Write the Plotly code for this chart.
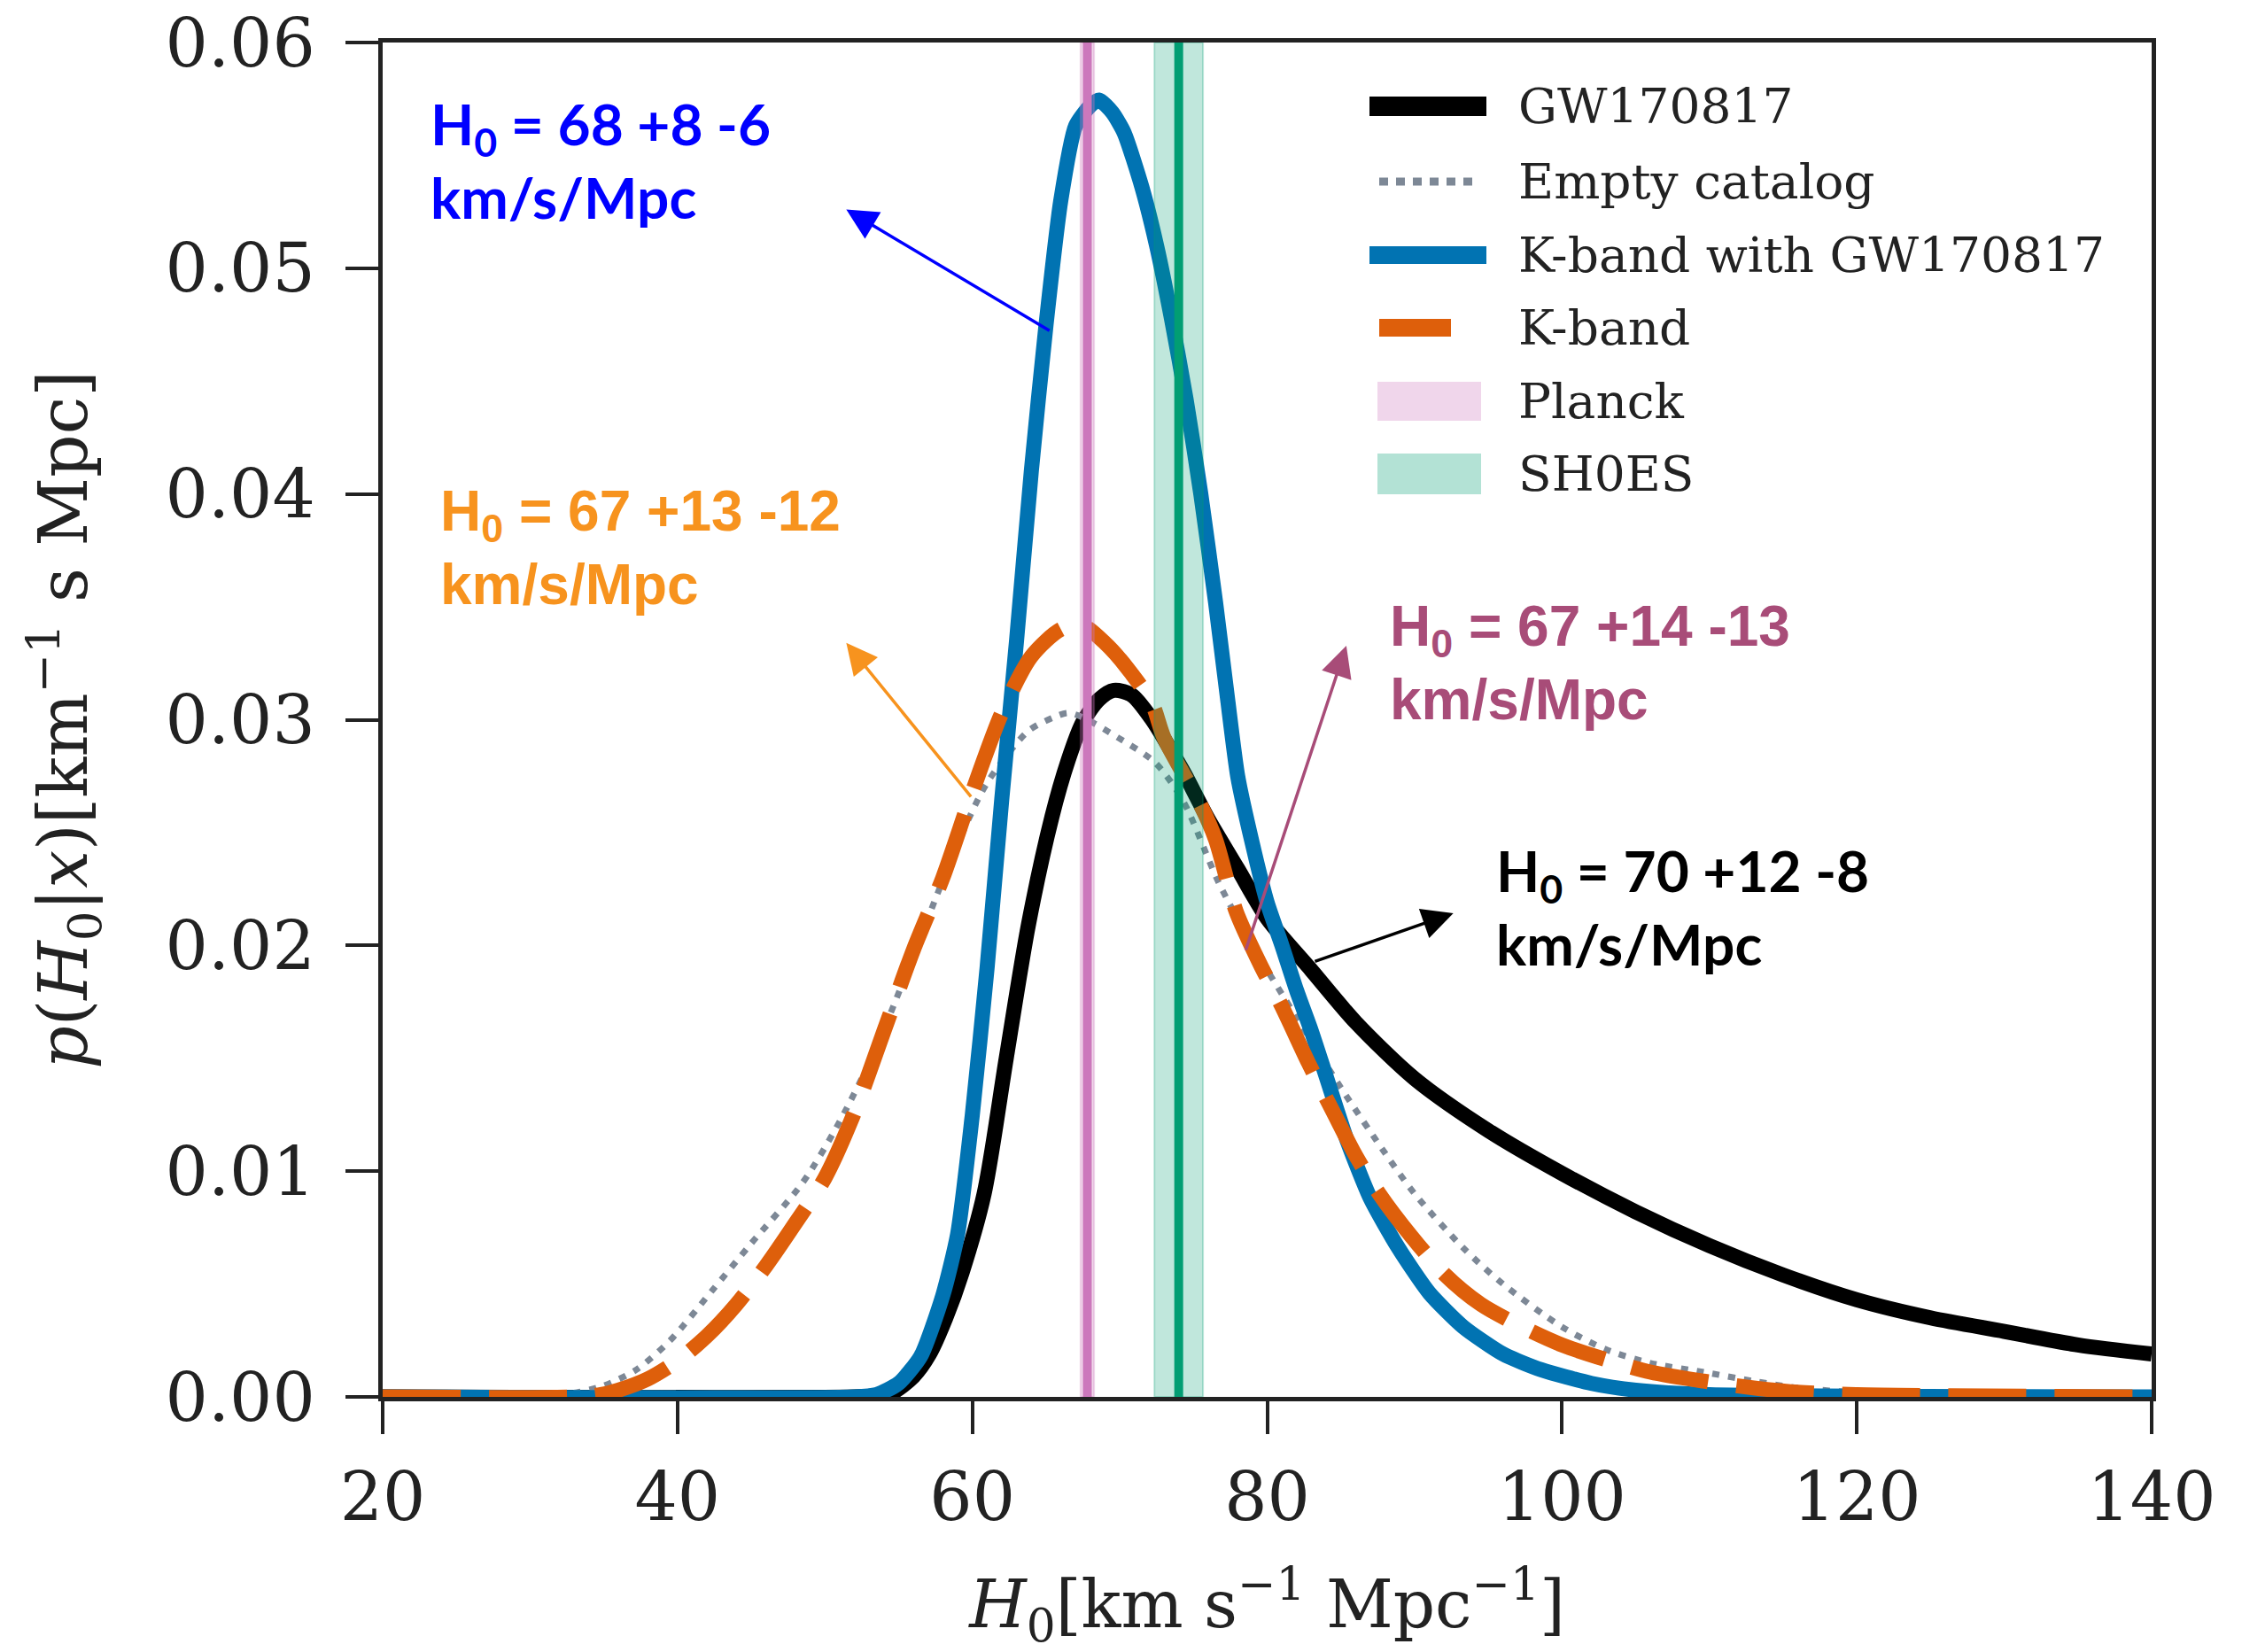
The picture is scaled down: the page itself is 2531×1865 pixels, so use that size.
import plotly.graph_objects as go

# ---------------- data ----------------
h_gw = [20, 52, 53.5, 54.6, 56, 57.1, 58.2, 59.3, 60.8, 62.3, 63.8, 65.4, 66.5, 67.5, 68.6,
        69.6, 70.8, 72.2, 73.6, 74.4, 76, 78, 80, 83, 86, 90, 95, 100, 105, 110, 115, 120,
        125, 130, 135, 140]
p_gw = [0, 0, 0.00005, 0.0002, 0.0009, 0.0019, 0.0035, 0.0055, 0.009, 0.015, 0.0209, 0.0257,
        0.0282, 0.0299, 0.0309, 0.0313, 0.0311, 0.0300, 0.0285, 0.0276, 0.0256, 0.0234,
        0.0212, 0.0189, 0.0166, 0.0141, 0.0118, 0.0099, 0.0082, 0.0067, 0.0054, 0.0043,
        0.0035, 0.0029, 0.0023, 0.0019]

h_empty = [20, 30, 33.2, 35, 37.2, 39.5, 42.4, 45, 48.5, 51, 53.5, 56.8, 59, 61, 63.8, 65.5,
           66.5, 67.5, 69.9, 72.4, 74.3, 76.7, 79, 82, 85, 88, 90, 93.3, 96, 100, 103, 106,
           109.6, 113, 116, 120, 125, 140]
p_empty = [0, 0, 0.0002, 0.0005, 0.0012, 0.0025, 0.00475, 0.0068, 0.0095, 0.0122, 0.0155,
           0.0209, 0.0245, 0.0272, 0.0295, 0.0301, 0.0303, 0.0301, 0.0292, 0.0281, 0.0264,
           0.0228, 0.0200, 0.0168, 0.0137, 0.0108, 0.0090, 0.0066, 0.0050, 0.0031, 0.0021,
           0.0015, 0.0011, 0.0007, 0.0004, 0.0002, 0.0001, 0]

h_kgw = [20, 52, 53.5, 55, 56.5, 58, 59, 60, 61, 62, 63, 64, 65, 66, 67, 68, 68.6, 69.5, 70.3,
         71.5, 72.5, 73.5, 74.5, 75.5, 76.5, 77.3, 78, 79, 80, 81, 82, 83, 84, 85.4, 87, 88.9,
         91, 93.3, 96, 98.6, 102, 105, 110, 140]
p_kgw = [0, 0, 0.0001, 0.0006, 0.0018, 0.0045, 0.0072, 0.0125, 0.019, 0.0265, 0.0335, 0.041,
         0.0475, 0.053, 0.0563, 0.0572, 0.05745, 0.0569, 0.0560, 0.0536, 0.0510, 0.0478,
         0.0442, 0.0400, 0.0352, 0.0310, 0.0275, 0.0245, 0.0219, 0.0200, 0.0180, 0.0162,
         0.0142, 0.0114, 0.0088, 0.0066, 0.0046, 0.0031, 0.0019, 0.0012, 0.0006, 0.0003,
         0.0001, 0]

h_k = [20, 33, 34.8, 36, 38, 40, 42, 44, 46, 48, 50, 52, 54, 56, 58, 60, 62, 64, 66, 67.4,
       69, 70.5, 72.2, 73.0, 75.5, 76.5, 77.9, 79.5, 81.0, 82.8, 84.5, 86, 87.6, 89.8, 92.0,
       94.5, 97.3, 100, 103, 106, 109.6, 113, 116.2, 120, 140]
p_k = [0, 0, 0.0001, 0.0003, 0.0008, 0.0016, 0.0027, 0.0041, 0.0058, 0.0077, 0.0097, 0.0126,
       0.0162, 0.0198, 0.0230, 0.0268, 0.0303, 0.0328, 0.0340, 0.0342, 0.0334, 0.0323,
       0.0307, 0.0292, 0.0262, 0.0247, 0.0215, 0.0192, 0.0173, 0.0148, 0.0126, 0.0107,
       0.0090, 0.0071, 0.00545, 0.0041, 0.0031, 0.0023, 0.00165, 0.0011, 0.0007, 0.0004,
       0.0002, 0.0001, 0]

planck_h0, planck_err = 67.8, 0.46
shoes_h0, shoes_err = 74.0, 1.65

x_ticks = [20, 40, 60, 80, 100, 120, 140]
y_ticks = [0.00, 0.01, 0.02, 0.03, 0.04, 0.05, 0.06]
x_range = [20, 140]
y_range = [0, 0.06]

legend_labels = ["GW170817", "Empty catalog", "K-band with GW170817", "K-band", "Planck", "SH0ES"]

# annotations: (text, colour, font, text x, text y, arrow tail x, y, arrow head x, y)
notes = [
    ("H<sub>0</sub> = 68 +8 -6<br>km/s/Mpc", "#0000ff", "Lato", 23.1, 0.0548, 65.32, 0.0472, 51.45, 0.0526),
    ("H<sub>0</sub> = 67 +13 -12<br>km/s/Mpc", "#f7931e", "Liberation Sans", 23.8, 0.0376, 59.98, 0.02653, 51.45, 0.0334),
    ("H<sub>0</sub> = 67 +14 -13<br>km/s/Mpc", "#a84c78", "Liberation Sans", 88.2, 0.0325, 78.52, 0.01974, 85.37, 0.03328),
    ("H<sub>0</sub> = 70 +12 -8<br>km/s/Mpc", "#000000", "Lato", 95.4, 0.0217, 83.15, 0.01927, 92.63, 0.02143),
]

SERIF = "DejaVu Serif"
INK = "#222222"
C_GW, C_EMPTY, C_KGW, C_K = "#000000", "#7d8896", "#0173b2", "#de5f0b"
C_PL, C_PL_FILL = "#cc78bc", "rgba(204,120,188,0.28)"
C_SH, C_SH_FILL = "#029e73", "rgba(2,158,115,0.25)"

# figure geometry (pixels)
W, H = 2531, 1865
ML, MR, MT, MB = 432, 102, 48, 288
PW, PH = W - ML - MR, H - MT - MB


def px(xp):
    return (xp - ML) / PW


def py(yp):
    return (H - MB - yp) / PH


fig = go.Figure()
fig.add_trace(go.Scatter(x=h_gw, y=p_gw, mode="lines", name=legend_labels[0],
                         line=dict(color=C_GW, width=17, shape="spline", smoothing=0.8)))
fig.add_trace(go.Scatter(x=h_empty, y=p_empty, mode="lines", name=legend_labels[1],
                         line=dict(color=C_EMPTY, width=7, dash="8px,10px", shape="spline", smoothing=0.8)))
fig.add_trace(go.Scatter(x=h_kgw, y=p_kgw, mode="lines", name=legend_labels[2],
                         line=dict(color=C_KGW, width=17, shape="spline", smoothing=0.6)))
fig.add_trace(go.Scatter(x=h_k, y=p_k, mode="lines", name=legend_labels[3],
                         line=dict(color=C_K, width=17, dash="88px,32px", shape="spline", smoothing=0.8)))

for name, c, e, fillc, linec in [(legend_labels[4], planck_h0, planck_err, C_PL_FILL, C_PL),
                                 (legend_labels[5], shoes_h0, shoes_err, C_SH_FILL, C_SH)]:
    fig.add_trace(go.Scatter(x=[c - e, c + e, c + e, c - e, c - e],
                             y=[y_range[0], y_range[0], y_range[1], y_range[1], y_range[0]],
                             mode="lines", fill="toself", fillcolor=fillc, name=name,
                             line=dict(color=fillc, width=2), hoverinfo="skip"))
    fig.add_trace(go.Scatter(x=[c, c], y=y_range, mode="lines", name=name,
                             line=dict(color=linec, width=10)))

# ---------------- manual legend (matplotlib-like handles) ----------------
row_y = [120, 205, 288, 370, 453, 535]
text_x = 1712
handles = [
    dict(kind="line", x0=1546, x1=1678, color=C_GW, width=22, dash="solid"),
    dict(kind="line", x0=1557, x1=1662, color=C_EMPTY, width=9, dash="10px,9px"),
    dict(kind="line", x0=1546, x1=1678, color=C_KGW, width=20, dash="solid"),
    dict(kind="line", x0=1557, x1=1638, color=C_K, width=20, dash="solid"),
    dict(kind="rect", x0=1555, x1=1672, h=44, color=C_PL, fill="rgba(204,120,188,0.30)"),
    dict(kind="rect", x0=1555, x1=1672, h=46, color=C_SH, fill="rgba(2,158,115,0.30)"),
]
for yrow, hd, label in zip(row_y, handles, legend_labels):
    if hd["kind"] == "line":
        fig.add_shape(type="line", xref="paper", yref="paper",
                      x0=px(hd["x0"]), x1=px(hd["x1"]), y0=py(yrow), y1=py(yrow),
                      line=dict(color=hd["color"], width=hd["width"], dash=hd["dash"]))
    else:
        fig.add_shape(type="rect", xref="paper", yref="paper",
                      x0=px(hd["x0"]), x1=px(hd["x1"]),
                      y0=py(yrow - hd["h"] / 2), y1=py(yrow + hd["h"] / 2),
                      fillcolor=hd["fill"], line=dict(color="rgba(0,0,0,0)", width=0))
    fig.add_annotation(x=px(text_x), y=py(yrow), xref="paper", yref="paper", text=label,
                       showarrow=False, xanchor="left", yanchor="middle",
                       font=dict(family=SERIF, size=55, color=INK))

# ---------------- value annotations with arrows ----------------
for text, col, fam, tx, ty, ax_, ay_, hx, hy in notes:
    fig.add_annotation(x=tx, y=ty, xref="x", yref="y", text=text, showarrow=False,
                       xanchor="left", yanchor="middle", align="left",
                       font=dict(family=fam, size=64, color=col, weight="bold"))
    fig.add_annotation(x=hx, y=hy, ax=ax_, ay=ay_, xref="x", yref="y", axref="x", ayref="y",
                       text="", showarrow=True, arrowhead=2, arrowsize=2.0, arrowwidth=3.5,
                       arrowcolor=col)

axis_common = dict(showgrid=False, zeroline=False, showline=True, linewidth=5, linecolor=INK,
                   mirror=True, ticks="outside", ticklen=37, tickwidth=4, tickcolor=INK)

fig.update_layout(
    width=W, height=H,
    margin=dict(l=ML, r=MR, t=MT, b=MB, autoexpand=False),
    paper_bgcolor="white", plot_bgcolor="white",
    showlegend=False,
    xaxis=dict(range=x_range, tickvals=x_ticks, ticktext=[str(v) for v in x_ticks],
               tickfont=dict(family=SERIF, size=76, color=INK), ticklabelstandoff=6,
               title=dict(text="<i>H</i><sub>0</sub>[km s<sup>−1</sup> Mpc<sup>−1</sup>]",
                          font=dict(family=SERIF, size=74, color=INK), standoff=60),
               **axis_common),
    yaxis=dict(range=y_range, tickvals=y_ticks, ticktext=["%.2f" % v for v in y_ticks],
               tickfont=dict(family=SERIF, size=76, color=INK), ticklabelstandoff=19,
               title=dict(text="<i>p</i>(<i>H</i><sub>0</sub>|<i>x</i>)[km<sup>−1</sup> s Mpc]",
                          font=dict(family=SERIF, size=76, color=INK), standoff=64),
               **axis_common),
)

fig.write_html("out.html", config={"displayModeBar": False},
               post_script="document.body.style.margin='0';")
